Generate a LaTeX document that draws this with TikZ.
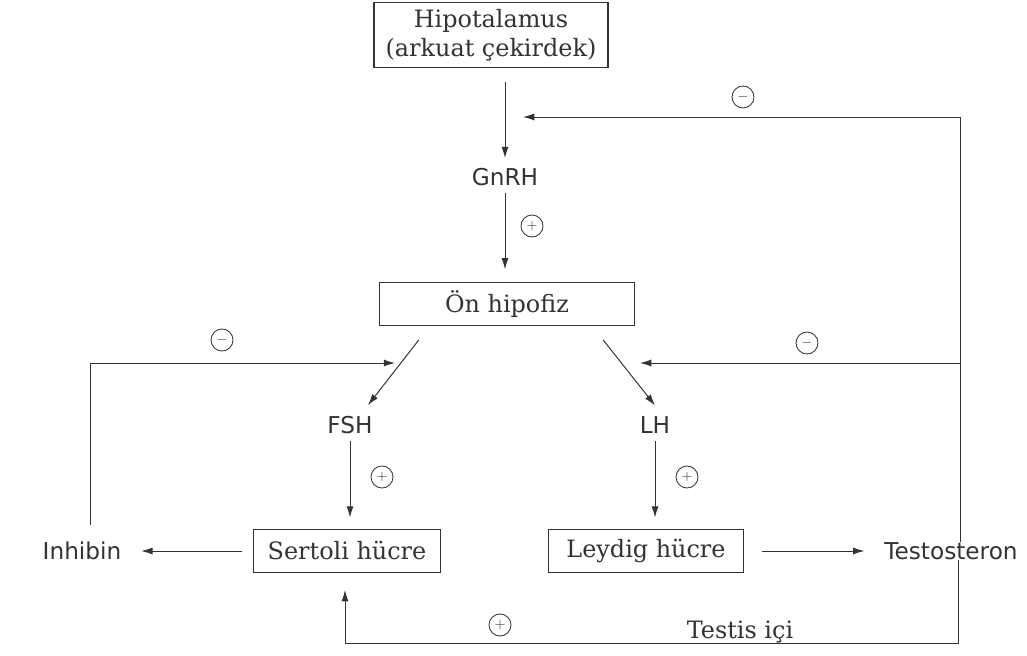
\documentclass[tikz,border=0pt]{standalone}
\usepackage{fontspec}
\usetikzlibrary{arrows.meta}
\setmainfont{DejaVu Serif}
\newfontfamily\etiketfont{DejaVu Sans}
\tikzset{
  kutu/.style={draw, line width=0.8pt, inner sep=0pt, align=center,
    font=\fontsize{17}{21}\selectfont},
  etiket/.style={inner sep=2pt, font=\etiketfont\fontsize{16.5}{20}\selectfont},
  isaret/.style={draw, circle, line width=0.6pt, minimum size=0.55cm, inner sep=0pt,
    font=\normalsize},
  ok/.style={-{Latex[length=8pt,width=5pt]}, line width=0.7pt}
}
\begin{document}
\begin{tikzpicture}[x=0.025cm,y=-0.025cm,color=black!80]
    \useasboundingbox (0,0) rectangle (1027,656);
    % kutular
    \node[kutu, minimum width=5.85cm, minimum height=1.63cm] (hipo) at (491,35)
      {Hipotalamus\\(arkuat çekirdek)};
    \node[kutu, minimum width=6.38cm, minimum height=1.07cm] (onhip) at (507,304) {Ön hipofiz};
    \node[kutu, minimum width=4.68cm, minimum height=1.08cm] (sertoli) at (347,551) {Sertoli hücre};
    \node[kutu, minimum width=4.88cm, minimum height=1.08cm] (leydig) at (646,551) {Leydig hücre};
    % etiketler
    \node[etiket] (gnrh) at (505,177) {GnRH};
    \node[etiket] (fsh) at (350,425) {FSH};
    \node[etiket] (lh) at (655,425) {LH};
    \node[etiket] (inhibin) at (82,551) {Inhibin};
    \node[etiket] (testo) at (951,551) {Testosteron};
    \node[font=\fontsize{17}{20}\selectfont] (testisici) at (740,632) {Testis içi};
    % isaretler
    \node[isaret] (i1) at (743,97) {$-$};
    \node[isaret] (i2) at (532,226) {$+$};
    \node[isaret] (i3) at (807,343) {$-$};
    \node[isaret] (i4) at (222,340) {$-$};
    \node[isaret] (i5) at (382,477) {$+$};
    \node[isaret] (i6) at (687,477) {$+$};
    \node[isaret] (i7) at (500,625) {$+$};
    % ana oklar
    \draw[ok] ([yshift=-10pt]hipo.south -| gnrh) -- ([yshift=5pt]gnrh.north);
    \draw[ok] ([yshift=-3pt]gnrh.south) -- ([yshift=9pt]onhip.north -| gnrh);
    \draw[ok] ([xshift=1cm,yshift=-0.35cm]onhip.south west) -- ([xshift=0.45cm,yshift=0.2cm]fsh.north);
    \draw[ok] ([xshift=-0.8cm,yshift=-0.35cm]onhip.south east) -- ([yshift=0.2cm]lh.north);
    \draw[ok] ([yshift=-3pt]fsh.south) -- ([yshift=8pt]sertoli.north -| fsh);
    \draw[ok] ([yshift=-3pt]lh.south) -- ([yshift=8pt]leydig.north -| lh);
    \draw[ok] ([xshift=-8pt]sertoli.west) -- ([xshift=12pt]inhibin.east);
    \draw[ok] ([xshift=13pt]leydig.east) -- ([xshift=-12pt]testo.west);
    % geri bildirim
    \coordinate (ust) at (960,117);
    \coordinate (ustuc) at (523,117);
    \coordinate (orta) at (960,363);
    \coordinate (ortauc) at (640,363);
    \coordinate (solalt) at (90,525);
    \coordinate (solust) at (90,363);
    \coordinate (soluc) at (395,363);
    \coordinate (altsag) at (958,643);
    \coordinate (altsol) at (345,643);
    \draw[ok] ([yshift=-2pt]testo.north -| ust) -- (ust) -- (ustuc);
    \draw[ok] (orta) -- (ortauc);
    \draw[ok] (solalt) -- (solust) -- (soluc);
    \draw[ok] ([yshift=2pt]testo.south -| altsag) -- (altsag) -- (altsol)
      -- ([yshift=-12pt]sertoli.south -| altsol);
\end{tikzpicture}
\end{document}
